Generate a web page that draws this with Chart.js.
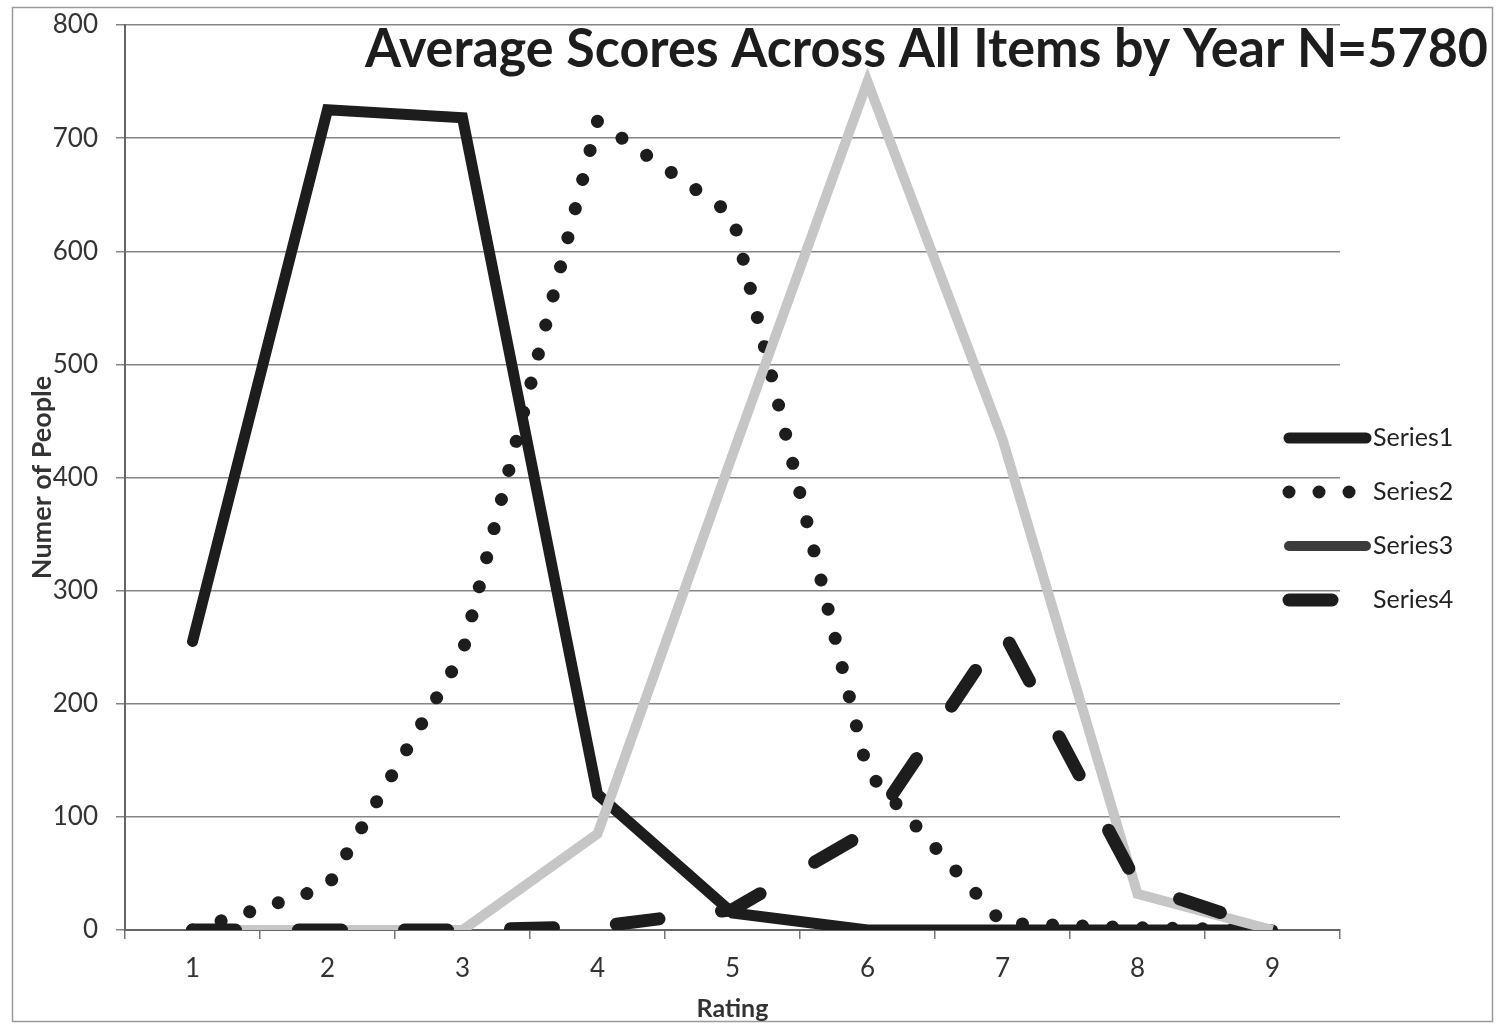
<!DOCTYPE html>
<html>
<head>
<meta charset="utf-8">
<title>Average Scores Across All Items by Year</title>
<script src="https://cdn.jsdelivr.net/npm/chart.js@4/dist/chart.umd.min.js"></script>
<style>
  html, body { margin: 0; padding: 0; background: #fff; }
  #wrap { width: 1497px; height: 1027px; position: relative; }
</style>
</head>
<body>
<div id="wrap"><canvas id="chart" width="1497" height="1027"></canvas></div>
<script>
// Rating categories and counts of people per series
const ratings = ['1', '2', '3', '4', '5', '6', '7', '8', '9'];
const series1 = [255, 725, 718, 120, 15, 0, 0, 0, 0];
const series2 = [0, 38, 245, 715, 632, 140, 6, 2, 0];
const series3 = [0, 0, 0, 85, 420, 750, 434, 32, 0];
const series4 = [0, 0, 0, 3, 18, 87, 265, 40, 0];
const seriesNames = ['Series1', 'Series2', 'Series3', 'Series4'];

// Value axis
const yMin = 0;
const yMax = 800;
const yStep = 100;

const chartTitle = 'Average Scores Across All Items by Year N=5780';
const xTitle = 'Rating';
const yTitle = 'Numer of People';

const FONT = 'Lato, "Open Sans", "Noto Sans", sans-serif';
const INK = '#1d1d1d';

// White page with a thin frame around the chart
const framePlugin = {
  id: 'frame',
  beforeDraw(chart) {
    const { ctx, width, height } = chart;
    ctx.save();
    ctx.fillStyle = '#fff';
    ctx.fillRect(0, 0, width, height);
    ctx.strokeStyle = '#9a9a9a';
    ctx.lineWidth = 1.5;
    ctx.strokeRect(12.5, 7.5, width - 17, height - 13);
    ctx.restore();
  }
};

// Big heading set over the top right of the plot, fitted to a fixed width
const headingPlugin = {
  id: 'heading',
  afterDraw(chart) {
    const { ctx } = chart;
    const right = 1488, left = 365, baseline = 67;
    ctx.save();
    ctx.font = 'bold 54px ' + FONT;
    ctx.fillStyle = INK;
    ctx.textBaseline = 'alphabetic';
    ctx.textAlign = 'left';
    const w = ctx.measureText(chartTitle).width;
    const sx = (right - left) / w;
    ctx.translate(left, baseline);
    ctx.scale(sx, 1);
    ctx.fillText(chartTitle, 0, 0);
    ctx.restore();
  }
};

// Legend drawn on the right, each sample using its dataset's own stroke style
const legendPlugin = {
  id: 'sideLegend',
  afterDraw(chart) {
    const { ctx } = chart;
    const x0 = 1289, x1 = 1366, textX = 1373, top = 438, gap = 54;
    chart.data.datasets.forEach((ds, i) => {
      const y = top + i * gap;
      ctx.save();
      ctx.strokeStyle = ds.legendColor || ds.borderColor;
      ctx.lineWidth = ds.borderWidth;
      ctx.lineCap = 'round';
      ctx.setLineDash(ds.borderDash || []);
      ctx.beginPath();
      ctx.moveTo(x0, y);
      ctx.lineTo(x1, y);
      ctx.stroke();
      ctx.setLineDash([]);
      ctx.fillStyle = '#222';
      ctx.font = '25px ' + FONT;
      ctx.textBaseline = 'middle';
      ctx.textAlign = 'left';
      ctx.fillText(ds.label, textX, y);
      ctx.restore();
    });
  }
};

const ctx = document.getElementById('chart').getContext('2d');
new Chart(ctx, {
  type: 'line',
  data: {
    labels: ratings,
    datasets: [
      {
        label: seriesNames[0], data: series1, order: 4,
        borderColor: INK, borderWidth: 11,
        borderJoinStyle: 'miter', borderCapStyle: 'round',
        pointRadius: 0, tension: 0, fill: false
      },
      {
        label: seriesNames[1], data: series2, order: 3,
        borderColor: INK, borderWidth: 13,
        borderDash: [0.01, 30], borderCapStyle: 'round',
        pointRadius: 0, tension: 0, fill: false
      },
      {
        label: seriesNames[2], data: series3, order: 2,
        borderColor: '#c6c6c6', legendColor: '#3c3c3c', borderWidth: 10,
        borderJoinStyle: 'miter', borderCapStyle: 'butt',
        pointRadius: 0, tension: 0, fill: false
      },
      {
        label: seriesNames[3], data: series4, order: 1,
        borderColor: INK, borderWidth: 13,
        borderDash: [43, 63], borderCapStyle: 'round',
        pointRadius: 0, tension: 0, fill: false
      }
    ]
  },
  options: {
    responsive: false,
    animation: false,
    events: [],
    layout: { padding: { top: 25, right: 157, bottom: 0, left: 0 } },
    plugins: {
      legend: { display: false },
      title: { display: false },
      tooltip: { enabled: false }
    },
    scales: {
      x: {
        type: 'category',
        offset: true,
        grid: {
          offset: true, drawOnChartArea: false, drawTicks: true,
          tickLength: 9, color: '#777', lineWidth: 1.5
        },
        border: { display: true, color: '#666', width: 2 },
        ticks: {
          color: '#333', padding: 14, maxRotation: 0,
          font: { family: FONT, size: 26 }
        },
        title: {
          display: true, text: xTitle, color: '#333',
          font: { family: FONT, size: 25, weight: 'bold' },
          padding: { top: 0, bottom: 3 }
        },
        afterFit(scale) { scale.height = 97; }
      },
      y: {
        min: yMin, max: yMax,
        grid: { color: '#858585', lineWidth: 1.5, drawTicks: true, tickLength: 9 },
        border: { display: true, color: '#666', width: 2 },
        ticks: {
          stepSize: yStep, color: '#333', padding: 18,
          font: { family: FONT, size: 26 }
        },
        title: {
          display: true, text: yTitle, color: '#333',
          font: { family: FONT, size: 27, weight: 'bold' },
          padding: { top: 26, bottom: 0 }
        },
        afterFit(scale) {
          scale.width = 125;
          scale.paddingTop = 0;
          scale.paddingBottom = 0;
        }
      }
    }
  },
  plugins: [framePlugin, headingPlugin, legendPlugin]
});
</script>
</body>
</html>
